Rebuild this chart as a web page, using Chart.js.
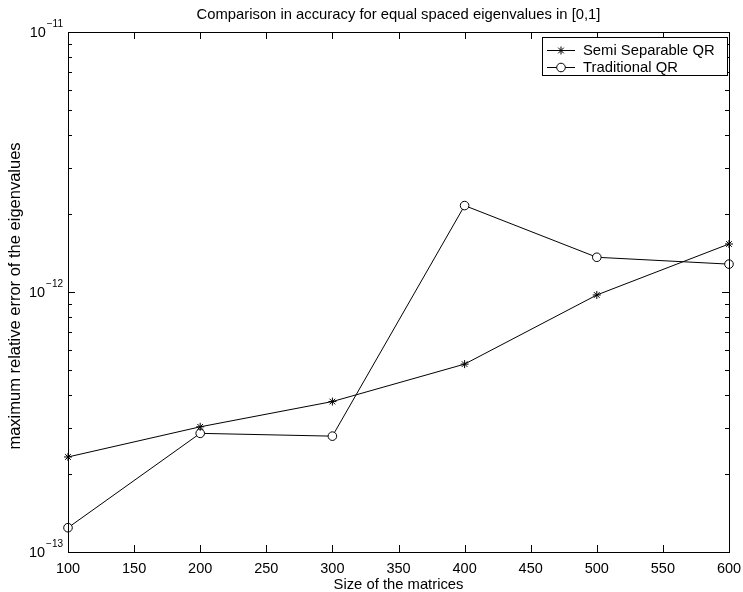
<!DOCTYPE html>
<html>
<head>
<meta charset="utf-8">
<script src="https://cdn.jsdelivr.net/npm/chart.js@4/dist/chart.umd.min.js"></script>
<style>
  body { margin: 0; background: #fff; }
  #wrap { width: 743px; height: 592px; }
</style>
</head>
<body>
<div id="wrap"><canvas id="chart" width="743" height="592"></canvas></div>
<script>
// matrix sizes and the max relative error of each method
const sizes = [100, 200, 300, 400, 500, 600];
const semiSeparable = [2.32e-13, 3.03e-13, 3.79e-13, 5.28e-13, 9.74e-13, 1.53e-12];
const traditional = [1.24e-13, 2.86e-13, 2.79e-13, 2.15e-12, 1.36e-12, 1.28e-12];
const xTicks = [100, 150, 200, 250, 300, 350, 400, 450, 500, 550, 600];
const yDecades = [-13, -12, -11];

const titleText = 'Comparison in accuracy for equal spaced eigenvalues in [0,1]';
const xTitle = 'Size of the matrices';
const yTitle = 'maximum relative error of the eigenvalues';
const font = '"Liberation Sans", Arial, Helvetica, sans-serif';

function toPoints(ys) {
    return sizes.map((x, i) => ({x: x, y: ys[i]}));
}

// draws the matlab style frame: box, inward ticks, y labels with exponents, titles, legend
const matlabFrame = {
    id: 'matlabFrame',
    afterDraw(chart) {
        const ctx = chart.ctx;
        const a = chart.chartArea;
        const xs = chart.scales.x;
        const ys = chart.scales.y;
        ctx.save();
        ctx.strokeStyle = '#000';
        ctx.fillStyle = '#000';
        ctx.lineWidth = 1;
        ctx.strokeRect(a.left + 0.5, a.top + 0.5, a.right - a.left, a.bottom - a.top);

        ctx.beginPath();
        xTicks.forEach(v => {
            let px = Math.round(xs.getPixelForValue(v)) + 0.5;
            ctx.moveTo(px, a.bottom); ctx.lineTo(px, a.bottom - 7);
            ctx.moveTo(px, a.top); ctx.lineTo(px, a.top + 7);
        });
        yDecades.forEach(d => {
            for (let m = 1; m < 10; m++) {
                if (d === -11 && m > 1) break;
                let py = Math.round(ys.getPixelForValue(m * Math.pow(10, d))) + 0.5;
                let len = m === 1 ? 7 : 4;
                ctx.moveTo(a.left, py); ctx.lineTo(a.left + len, py);
                ctx.moveTo(a.right, py); ctx.lineTo(a.right - len, py);
            }
        });
        ctx.stroke();

        // y tick labels 10^d
        ctx.textBaseline = 'middle';
        yDecades.forEach(d => {
            let py = ys.getPixelForValue(Math.pow(10, d));
            let exp = '\u2212' + Math.abs(d);
            ctx.font = '10px ' + font;
            let ew = ctx.measureText(exp).width;
            ctx.textAlign = 'left';
            ctx.fillText(exp, a.left - 5 - ew, py - 8);
            ctx.font = '14.5px ' + font;
            ctx.textAlign = 'right';
            ctx.fillText('10', a.left - 5 - ew - 1, py + 1);
        });

        // titles
        ctx.font = '14.8px ' + font;
        ctx.textAlign = 'center';
        ctx.fillText(titleText, (a.left + a.right) / 2, 15);
        ctx.fillText(xTitle, (a.left + a.right) / 2, 585);
        ctx.save();
        ctx.font = '16.5px ' + font;
        ctx.translate(15, (a.top + a.bottom) / 2 + 4);
        ctx.rotate(-Math.PI / 2);
        ctx.fillText(yTitle, 0, 0);
        ctx.restore();

        // legend
        const lx = 542, ly = 37, lw = 185, lh = 38;
        ctx.fillStyle = '#fff';
        ctx.fillRect(lx, ly, lw, lh);
        ctx.strokeRect(lx + 0.5, ly + 0.5, lw, lh);
        chart.data.datasets.forEach((ds, i) => {
            let cy = ly + 13 + i * 17;
            ctx.beginPath();
            ctx.moveTo(547, cy + 0.5); ctx.lineTo(575, cy + 0.5);
            ctx.stroke();
            ctx.fillStyle = ds.backgroundColor;
            Chart.helpers.drawPoint(ctx, {pointStyle: ds.pointStyle, radius: ds.pointRadius, borderWidth: 1}, 561, cy + 0.5);
            ctx.fillStyle = '#000';
            ctx.font = '14.8px ' + font;
            ctx.textAlign = 'left';
            ctx.fillText(ds.label, 583, cy + 1);
        });
        ctx.restore();
    }
};

const config = {
    type: 'line',
    data: {
        datasets: [{
            label: 'Semi Separable QR',
            data: toPoints(semiSeparable),
            borderColor: '#000',
            backgroundColor: '#000',
            borderWidth: 1,
            pointStyle: 'star',
            pointRadius: 4,
            pointBorderWidth: 1,
            fill: false,
            tension: 0,
        }, {
            label: 'Traditional QR',
            data: toPoints(traditional),
            borderColor: '#000',
            backgroundColor: '#fff',
            borderWidth: 1,
            pointStyle: 'circle',
            pointRadius: 4.3,
            pointBorderWidth: 1,
            fill: false,
            tension: 0,
        }]
    },
    options: {
        responsive: false,
        animation: false,
        clip: false,
        layout: { padding: { top: 32, right: 14, left: 0, bottom: 0 } },
        plugins: {
            legend: { display: false },
            title: { display: false },
            tooltip: { enabled: false },
        },
        scales: {
            x: {
                type: 'linear',
                min: 100,
                max: 600,
                afterFit: s => { s.height = 40; s.paddingLeft = 0; s.paddingRight = 0; },
                afterBuildTicks: s => { s.ticks = xTicks.map(v => ({value: v})); },
                grid: { display: false, drawTicks: false },
                border: { display: false },
                ticks: { color: '#000', padding: 8, font: { family: font, size: 14.5 }, maxRotation: 0 },
            },
            y: {
                type: 'logarithmic',
                min: 1e-13,
                max: 1e-11,
                afterFit: s => { s.width = 68; },
                grid: { display: false, drawTicks: false },
                border: { display: false },
                ticks: { display: false },
            }
        }
    },
    plugins: [matlabFrame]
};

new Chart(document.getElementById('chart'), config);
</script>
</body>
</html>
